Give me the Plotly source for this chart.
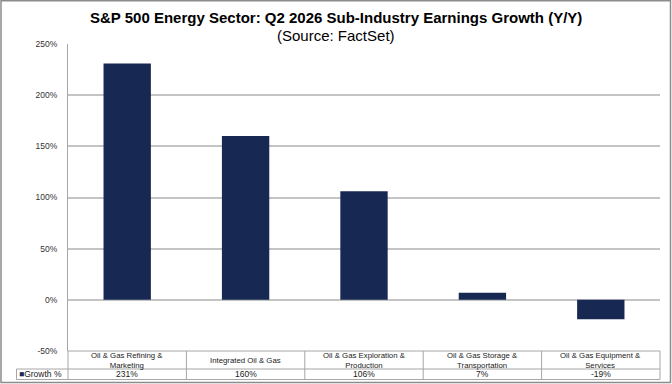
import plotly.graph_objects as go

categories = [
    "Oil & Gas Refining &<br>Marketing",
    "Integrated Oil & Gas",
    "Oil & Gas Exploration &<br>Production",
    "Oil & Gas Storage &<br>Transportation",
    "Oil & Gas Equipment &<br>Services",
]
growth = [231, 160, 106, 7, -19]
series_name = "Growth %"
y_ticks = [-50, 0, 50, 100, 150, 200, 250]
y_tick_labels = ["-50%", "0%", "50%", "100%", "150%", "200%", "250%"]

W, H = 672, 384
ML, MR, MT, MB = 68, 12, 44, 33
PW, PH = W - ML - MR, H - MT - MB

NAVY = "#172853"
GRID = "#c4c4c4"
LINE = "#a6a6a6"
FONT = "Arial, 'Liberation Sans', sans-serif"


def py(pix):
    # pixel row -> paper y
    return (H - MB - pix) / PH


def px(pix):
    return (pix - ML) / PW


n = len(categories)
xs = list(range(n))

fig = go.Figure()
fig.add_trace(go.Bar(x=xs, y=growth, marker=dict(color=NAVY, line=dict(width=0)),
                     width=0.4, name=series_name, showlegend=False))

shapes = []
annotations = []

# table lines
row_top, row_mid, row_bot = py(351), py(369), py(379.5)
for i in range(n + 1):
    xb = i / n
    shapes.append(dict(type="line", xref="paper", yref="paper", x0=xb, x1=xb,
                       y0=row_top, y1=row_bot, line=dict(color=LINE, width=1)))
for yy in (row_top, row_mid, row_bot):
    shapes.append(dict(type="line", xref="paper", yref="paper", x0=0, x1=1,
                       y0=yy, y1=yy, line=dict(color=LINE, width=1)))
# legend cell
lx = px(16.5)
for yy in (row_mid, row_bot):
    shapes.append(dict(type="line", xref="paper", yref="paper", x0=lx, x1=0,
                       y0=yy, y1=yy, line=dict(color=LINE, width=1)))
shapes.append(dict(type="line", xref="paper", yref="paper", x0=lx, x1=lx,
                   y0=row_mid, y1=row_bot, line=dict(color=LINE, width=1)))
# outer border
shapes.append(dict(type="rect", xref="paper", yref="paper", x0=px(1), x1=px(670.5),
                   y0=py(0.7), y1=py(382.5), line=dict(color="#8c8c8c", width=1.5)))

cat_font = dict(family=FONT, size=7.8, color="#222222")
cell_font = dict(family=FONT, size=8.5, color="#222222")
for i, (c, v) in enumerate(zip(categories, growth)):
    annotations.append(dict(x=i, y=py(360), xref="x", yref="paper", text=c,
                            showarrow=False, xanchor="center", yanchor="middle",
                            borderpad=0, font=cat_font))
    annotations.append(dict(x=i, y=py(374.3), xref="x", yref="paper", text=f"{v:.0f}%",
                            showarrow=False, xanchor="center", yanchor="middle",
                            borderpad=0, font=cell_font))

annotations.append(dict(x=px(18), y=py(374.3), xref="paper", yref="paper",
                        text=f"<span style='color:{NAVY}'>■</span>{series_name}",
                        showarrow=False, xanchor="left", yanchor="middle",
                        borderpad=0, font=cell_font))

annotations.append(dict(x=px(336), y=py(18), xref="paper", yref="paper",
                        text="<b>S&P 500 Energy Sector: Q2 2026 Sub-Industry Earnings Growth (Y/Y)</b>",
                        showarrow=False, xanchor="center", yanchor="middle",
                        font=dict(family=FONT, size=15, color="#000000")))
annotations.append(dict(x=px(336), y=py(35.5), xref="paper", yref="paper",
                        text="(Source: FactSet)",
                        showarrow=False, xanchor="center", yanchor="middle",
                        font=dict(family=FONT, size=15, color="#000000")))

fig.update_layout(
    width=W, height=H,
    margin=dict(l=ML, r=MR, t=MT, b=MB, pad=0),
    paper_bgcolor="white", plot_bgcolor="white",
    font=dict(family=FONT, size=8.5, color="#333333"),
    shapes=shapes, annotations=annotations,
    bargap=0.6, showlegend=False,
    xaxis=dict(range=[-0.5, n - 0.5], showticklabels=False, showgrid=False,
               zeroline=False, showline=False, ticks="", fixedrange=True),
    yaxis=dict(range=[-50, 250], tickvals=y_ticks, ticktext=y_tick_labels,
               showgrid=True, gridcolor=GRID, gridwidth=1.5, zeroline=False,
               showline=True, linecolor=LINE, linewidth=1,
               ticks="outside", ticklen=8, tickcolor="rgba(0,0,0,0)",
               tickfont=dict(family=FONT, size=8.5, color="#333333"),
               fixedrange=True),
)

fig.write_html("out.html")
